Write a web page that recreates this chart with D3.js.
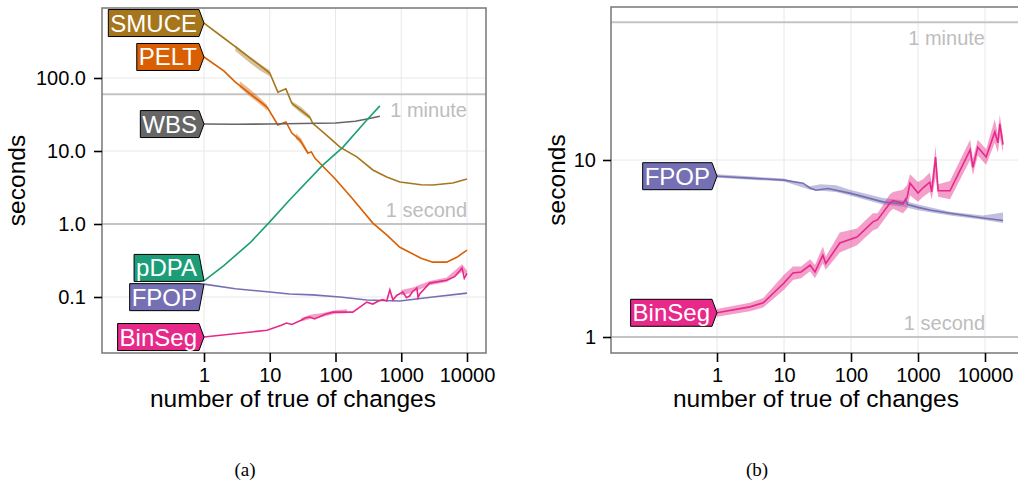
<!DOCTYPE html>
<html>
<head>
<meta charset="utf-8">
<script src="https://cdn.jsdelivr.net/npm/d3@7"></script>
<style>
  body { margin: 0; background: #fff; }
  text { font-family: "Liberation Sans", Arial, sans-serif; }
</style>
</head>
<body>
<svg id="fig" width="1018" height="484"></svg>
<script>
// ---- data: [number of changes, seconds] ----
const smuce = [[1,566],[2,353],[3.2,257],[5,188],[7,150],[10,117],[13.3,64],[17.6,71],[21.7,45],[30,36],[40.8,29],[45,24],[70,17],[117,11.3],[211,8.3],[370,5.5],[600,4.4],[952,3.76],[2000,3.45],[3020,3.42],[6080,3.65],[10000,4.13]];
const pelt = [[1,194],[2,125],[3,88],[5,61],[9.1,40],[13.3,22.7],[17.6,25],[21.7,17.6],[28.7,14.1],[38,9.4],[43,9.7],[48.5,8.0],[100,4.1],[183,2.2],[370,1.03],[600,0.71],[952,0.48],[2000,0.34],[3020,0.30],[4900,0.30],[7000,0.35],[10000,0.44]];
const wbs = [[1,23.4],[3,23.2],[10,23.4],[30,23.8],[100,24.2],[200,25.5],[300,27.4],[473,30]];
const pdpa = [[1,0.166],[2,0.27],[5,0.55],[10,1.07],[20,2.13],[64,6.4],[130,11.3],[300,26.6],[473,41.5]];
const fpopA = [[1,0.15],[3,0.13],[10,0.117],[20,0.11],[45,0.107],[117,0.10],[300,0.091],[952,0.088],[3020,0.10],[10000,0.113]];
const binsegA = [[1,0.0283],[9.1,0.035],[15,0.041],[18,0.044],[21.7,0.042],[30,0.048],[35,0.052],[41,0.053],[48,0.050],[70,0.058],[91,0.062],[183,0.062],[300,0.085],[370,0.080],[450,0.088],[525,0.092],[600,0.088],[671,0.125],[748,0.091],[850,0.105],[1057,0.117],[1200,0.098],[1340,0.103],[1500,0.12],[1730,0.133],[1800,0.098],[1910,0.110],[2700,0.155],[4900,0.17],[6500,0.19],[8400,0.25],[9100,0.18],[10000,0.21]];

const fpopB = [[1,8.1],[3.1,7.9],[10,7.7],[19.2,7.4],[24.5,6.95],[30,6.75],[45,6.9],[96,6.5],[300,5.8],[600,5.64],[650,6.0],[700,5.6],[1000,5.4],[1560,5.2],[3000,5.0],[9300,4.7],[18600,4.55]];
const binsegB = [[1,1.37],[3.1,1.48],[4.9,1.56],[10,2.02],[13.6,2.3],[18,2.33],[24.5,2.55],[29,2.33],[38,2.9],[42,2.6],[68,3.4],[123,3.67],[212,4.47],[250,4.6],[380,5.7],[424,5.9],[597,5.7],[685,6.1],[760,7.4],[1000,6.5],[1200,6.99],[1500,7.5],[1600,6.6],[1830,10.4],[2000,6.7],[3000,6.7],[6000,11.4],[6600,9.1],[7800,11.8],[10400,10.4],[14000,14.4],[15600,12.5],[16600,16],[18600,12.2]];

// ---- bands: [number of changes, low, high] ----
const smuceBand1 = [[3,235,282],[5,160,196],[7,128,157],[10,106,128]];
const smuceBand2 = [[21.7,42,48],[30,33,40],[40.8,27,31]];
const peltBand1 = [[3.5,74,90],[5,56,70],[7,44,54],[9.1,36,43]];
const peltBand2 = [[25,14.5,17.5],[30,12.5,15],[38,8.8,10]];
const binsegBandA1 = [[30,0.046,0.051],[41,0.050,0.057],[60,0.053,0.060],[100,0.059,0.066],[150,0.060,0.068]];
const binsegBandA2 = [[1000,0.105,0.125],[1500,0.115,0.135],[2700,0.145,0.165],[4900,0.16,0.185],[8400,0.22,0.28],[10000,0.195,0.23]];
const fpopBandB = [[1,7.95,8.3],[10,7.55,7.85],[24.5,6.8,7.1],[35,6.7,7.3],[60,6.6,7.2],[96,6.3,6.8],[300,5.6,6.1],[600,5.45,5.9],[1000,5.2,5.6],[3000,4.85,5.1],[9300,4.6,4.85],[18600,4.4,5.05]];
const binsegBandB = [[1,1.30,1.44],[3.1,1.40,1.56],[4.9,1.47,1.66],[10,1.85,2.25],[13.6,2.1,2.5],[18,2.15,2.5],[24.5,2.35,2.75],[29,2.15,2.55],[38,2.6,3.25],[42,2.4,2.85],[68,3.0,3.9],[123,3.3,4.1],[212,4.0,5.0],[250,4.1,5.0],[380,5.1,6.4],[424,5.3,6.6],[597,5.0,6.8],[685,5.3,7.2],[760,6.3,8.3],[1000,5.8,7.5],[1200,6.2,7.8],[1500,6.6,8.5],[1600,6.0,7.5],[1830,8,12],[2000,6.2,7.3],[3000,6.0,7.6],[6000,10,13],[6600,8.2,10.2],[7800,10.6,13],[10400,9.4,11.5],[14000,12.5,17],[15600,11,14],[16600,13.5,18],[18600,11,13.5]];

const xTicks = [1, 10, 100, 1000, 10000];
const yTicksA = [0.1, 1, 10, 100];
const yTicksB = [1, 10];
const refLines = [{v: 60, label: "1 minute", below: true}, {v: 1, label: "1 second", below: false}];

const colors = {SMUCE: "#A6761D", PELT: "#D95F02", WBS: "#666666", pDPA: "#1B9E77", FPOP: "#7570B3", BinSeg: "#E7298A"};

const svg = d3.select("#fig");

function panel(o) {
  const x = d3.scaleLog().domain([1, 10000]).range(o.xr);
  const y = d3.scaleLog().domain(o.yd).range(o.yr);
  const b = o.box;

  const clipId = "clip" + o.id;
  svg.append("clipPath").attr("id", clipId)
    .append("rect").attr("x", b.x0).attr("y", b.y0).attr("width", b.x1 - b.x0).attr("height", b.y1 - b.y0);

  const g = svg.append("g");
  const inner = g.append("g").attr("clip-path", `url(#${clipId})`);

  // grid
  inner.selectAll(".vg").data(xTicks).enter().append("line")
    .attr("x1", d => x(d)).attr("x2", d => x(d)).attr("y1", b.y0).attr("y2", b.y1)
    .attr("stroke", "#e8e8e8").attr("stroke-width", 1);
  inner.selectAll(".hg").data(o.yTicks).enter().append("line")
    .attr("x1", b.x0).attr("x2", b.x1).attr("y1", d => y(d)).attr("y2", d => y(d))
    .attr("stroke", "#e8e8e8").attr("stroke-width", 1);

  // reference lines
  refLines.forEach(r => {
    inner.append("line")
      .attr("x1", b.x0).attr("x2", b.x1).attr("y1", y(r.v)).attr("y2", y(r.v))
      .attr("stroke", "#c4c4c4").attr("stroke-width", 2);
    inner.append("text")
      .attr("x", x(10000)).attr("y", y(r.v) + (r.below ? 23 : -7))
      .attr("text-anchor", "end").attr("font-size", 20).attr("fill", "#bdbdbd")
      .text(r.label);
  });

  const area = d3.area().x(d => x(d[0])).y0(d => y(d[1])).y1(d => y(d[2]));
  const line = d3.line().x(d => x(d[0])).y(d => y(d[1]));

  o.bands.forEach(bd => {
    inner.append("path").attr("d", area(bd.data))
      .attr("fill", colors[bd.name]).attr("opacity", 0.45);
  });
  o.series.forEach(s => {
    inner.append("path").attr("d", line(s.data))
      .attr("fill", "none").attr("stroke", colors[s.name]).attr("stroke-width", 1.6);
  });

  // border
  g.append("rect").attr("x", b.x0).attr("y", b.y0).attr("width", b.x1 - b.x0).attr("height", b.y1 - b.y0)
    .attr("fill", "none").attr("stroke", "#7f7f7f").attr("stroke-width", 1.6);

  // axes
  const ax = g.append("g").attr("transform", `translate(0,${b.y1})`)
    .call(d3.axisBottom(x).tickValues(xTicks).tickFormat(d3.format("d")).tickSize(9).tickPadding(6));
  const ay = g.append("g").attr("transform", `translate(${b.x0},0)`)
    .call(d3.axisLeft(y).tickValues(o.yTicks).tickFormat(o.yFormat).tickSize(8).tickPadding(o.yPad));
  [ax, ay].forEach(a => {
    a.select(".domain").remove();
    a.selectAll(".tick line").attr("stroke", "#000").attr("stroke-width", 1.6);
    a.selectAll(".tick text").attr("font-size", 20).attr("fill", "#000")
      .attr("font-family", "'Liberation Sans', Arial, sans-serif");
  });

  g.append("text").attr("x", o.xTitleX).attr("y", 407).attr("text-anchor", "middle")
    .attr("font-size", 24.5).text("number of true of changes");
  g.append("text").attr("transform", `translate(${o.yTitleX},${(b.y0 + b.y1) / 2}) rotate(-90)`)
    .attr("text-anchor", "middle").attr("font-size", 24.5).text("seconds");

  // direct labels at the first point of each line
  o.series.forEach(s => {
    const tx = x(s.data[0][0]), ty = y(s.data[0][1]);
    const cy = ty + (s.shift || 0);
    const lg = g.append("g");
    const poly = lg.append("polygon");
    const t = lg.append("text").attr("font-size", 24).attr("fill", "#fff").text(s.name);
    const w = t.node().getComputedTextLength();
    const x1 = tx - 5, x0 = x1 - w - 4, y0 = cy - 13.5, y1 = cy + 13.5;
    poly.attr("points", [[x0, y0], [x1, y0], [tx, ty], [x1, y1], [x0, y1]].map(p => p.join(",")).join(" "))
      .attr("fill", colors[s.name]).attr("stroke", "#000").attr("stroke-width", 1);
    t.attr("x", x0 + 2).attr("y", cy + 8.5);
  });
}

panel({
  id: "a",
  box: {x0: 102, x1: 486, y0: 8, y1: 353},
  xr: [204, 467], yd: [0.1, 100], yr: [297, 78],
  yTicks: yTicksA, yFormat: d3.format(".1f"), yPad: 8,
  xTitleX: 293, yTitleX: 25,
  series: [
    {name: "SMUCE", data: smuce},
    {name: "PELT", data: pelt},
    {name: "WBS", data: wbs},
    {name: "pDPA", data: pdpa, shift: -13},
    {name: "FPOP", data: fpopA, shift: 13},
    {name: "BinSeg", data: binsegA}
  ],
  bands: [
    {name: "SMUCE", data: smuceBand1}, {name: "SMUCE", data: smuceBand2},
    {name: "PELT", data: peltBand1}, {name: "PELT", data: peltBand2},
    {name: "BinSeg", data: binsegBandA1}, {name: "BinSeg", data: binsegBandA2}
  ]
});

panel({
  id: "b",
  box: {x0: 611, x1: 1022, y0: 7, y1: 353},
  xr: [717, 985], yd: [1, 10], yr: [337, 160],
  yTicks: yTicksB, yFormat: d3.format("d"), yPad: 7,
  xTitleX: 816, yTitleX: 565,
  series: [
    {name: "FPOP", data: fpopB},
    {name: "BinSeg", data: binsegB}
  ],
  bands: [
    {name: "FPOP", data: fpopBandB},
    {name: "BinSeg", data: binsegBandB}
  ]
});

// sub-captions in serif
[["(a)", 245], ["(b)", 757]].forEach(([s, cx]) => {
  svg.append("text").attr("x", cx).attr("y", 476).attr("text-anchor", "middle")
    .attr("font-size", 19).style("font-family", "'Liberation Serif', 'DejaVu Serif', serif").text(s);
});
</script>
</body>
</html>
